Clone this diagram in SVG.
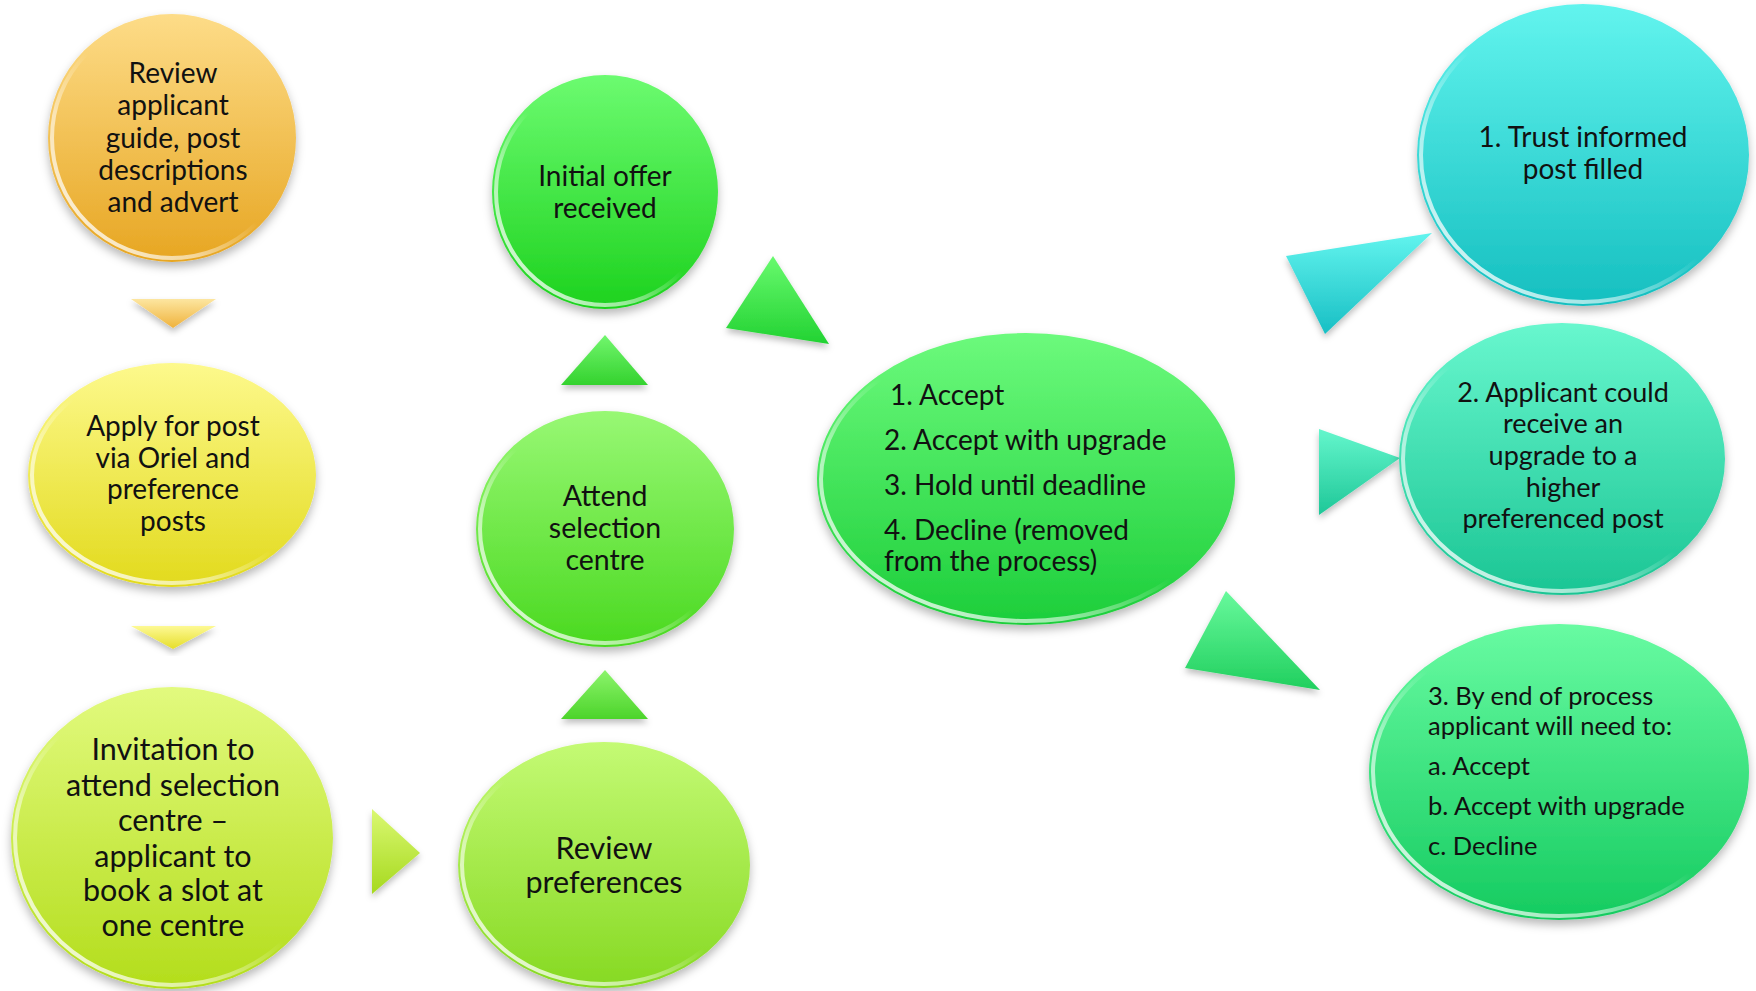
<svg xmlns="http://www.w3.org/2000/svg" width="1756" height="991" viewBox="0 0 1756 991">
<style>
  text { font-family: Lato, "Open Sans", "Liberation Sans", sans-serif; fill: #111; }
  .c { text-anchor: middle; }
  .node { filter: url(#sh); }
  .gloss { fill: none; stroke: url(#gl); stroke-width: 4; }
  .arr { filter: url(#sh2); }
</style>
<defs>
  <filter id="sh" x="-20%" y="-20%" width="140%" height="140%">
    <feDropShadow dx="0" dy="5" stdDeviation="5" flood-color="#000" flood-opacity="0.28"/>
  </filter>
  <filter id="sh2" x="-30%" y="-30%" width="160%" height="160%">
    <feDropShadow dx="0" dy="4" stdDeviation="3" flood-color="#000" flood-opacity="0.25"/>
  </filter>
  <linearGradient id="gl" x1="0" y1="1" x2="1" y2="0">
    <stop offset="0" stop-color="#fff" stop-opacity="0.95"/>
    <stop offset="0.3" stop-color="#fff" stop-opacity="0.55"/>
    <stop offset="0.5" stop-color="#fff" stop-opacity="0"/>
    <stop offset="0.85" stop-color="#fff" stop-opacity="0"/>
    <stop offset="1" stop-color="#fff" stop-opacity="0.2"/>
  </linearGradient>
  <linearGradient id="gOrange" x1="0" y1="0" x2="0" y2="1"><stop offset="0" stop-color="#FDDC88"/><stop offset="1" stop-color="#E7A622"/></linearGradient>
  <linearGradient id="gYellow" x1="0" y1="0" x2="0" y2="1"><stop offset="0" stop-color="#FDF98C"/><stop offset="1" stop-color="#E2DA1C"/></linearGradient>
  <linearGradient id="gLime" x1="0" y1="0" x2="0" y2="1"><stop offset="0" stop-color="#E2FA7E"/><stop offset="1" stop-color="#B3DD1B"/></linearGradient>
  <linearGradient id="gRev" x1="0" y1="0" x2="0" y2="1"><stop offset="0" stop-color="#C4FA74"/><stop offset="1" stop-color="#86D922"/></linearGradient>
  <linearGradient id="gAtt" x1="0" y1="0" x2="0" y2="1"><stop offset="0" stop-color="#98F874"/><stop offset="1" stop-color="#4AD920"/></linearGradient>
  <linearGradient id="gIni" x1="0" y1="0" x2="0" y2="1"><stop offset="0" stop-color="#6CFB70"/><stop offset="1" stop-color="#1DD21E"/></linearGradient>
  <linearGradient id="gAcc" x1="0" y1="0" x2="0" y2="1"><stop offset="0" stop-color="#6CFA7C"/><stop offset="1" stop-color="#1CCE3A"/></linearGradient>
  <linearGradient id="gCyan" x1="0" y1="0" x2="0" y2="1"><stop offset="0" stop-color="#62F4EE"/><stop offset="1" stop-color="#15BFC0"/></linearGradient>
  <linearGradient id="gTeal" x1="0" y1="0" x2="0" y2="1"><stop offset="0" stop-color="#68F7CE"/><stop offset="1" stop-color="#1BC594"/></linearGradient>
  <linearGradient id="gMint" x1="0" y1="0" x2="0" y2="1"><stop offset="0" stop-color="#68FBA2"/><stop offset="1" stop-color="#15CB60"/></linearGradient>
  <linearGradient id="aOrange" x1="0" y1="0" x2="0" y2="1"><stop offset="0" stop-color="#FDE6A0"/><stop offset="1" stop-color="#EFB23C"/></linearGradient>
  <linearGradient id="aYellow" x1="0" y1="0" x2="0" y2="1"><stop offset="0" stop-color="#FDF994"/><stop offset="1" stop-color="#E6DE2A"/></linearGradient>
  <linearGradient id="aLime" x1="0" y1="0" x2="0" y2="1"><stop offset="0" stop-color="#DAF872"/><stop offset="1" stop-color="#A6D91E"/></linearGradient>
  <linearGradient id="aG1" x1="0" y1="0" x2="0" y2="1"><stop offset="0" stop-color="#8CF46C"/><stop offset="1" stop-color="#4CD42A"/></linearGradient>
  <linearGradient id="aG2" x1="0" y1="0" x2="0" y2="1"><stop offset="0" stop-color="#72F66E"/><stop offset="1" stop-color="#34D22E"/></linearGradient>
  <linearGradient id="aG3" x1="0" y1="0" x2="0" y2="1"><stop offset="0" stop-color="#68FA6E"/><stop offset="1" stop-color="#22D232"/></linearGradient>
  <linearGradient id="aCyan" x1="0" y1="0" x2="0" y2="1"><stop offset="0" stop-color="#62F4EE"/><stop offset="1" stop-color="#18BFC4"/></linearGradient>
  <linearGradient id="aTeal" x1="0" y1="0" x2="0" y2="1"><stop offset="0" stop-color="#64F6CC"/><stop offset="1" stop-color="#1EC798"/></linearGradient>
  <linearGradient id="aMint" x1="0" y1="0" x2="0" y2="1"><stop offset="0" stop-color="#68F99C"/><stop offset="1" stop-color="#20CF5E"/></linearGradient>
</defs>
<rect width="1756" height="991" fill="#fff"/>

<g id="connectors">
  <polygon class="arr" points="131,299 216,299 173,328" fill="url(#aOrange)"/>
  <polygon class="arr" points="131,626 216,626 173,649" fill="url(#aYellow)"/>
  <polygon class="arr" points="372,809 420,853 372,894" fill="url(#aLime)"/>
  <polygon class="arr" points="605,670 648,719 561,719" fill="url(#aG1)"/>
  <polygon class="arr" points="605,335 648,385 561,385" fill="url(#aG2)"/>
  <polygon class="arr" points="773,256 829,344 726,328" fill="url(#aG3)"/>
  <polygon class="arr" points="1286,256 1432,233 1325,334" fill="url(#aCyan)"/>
  <polygon class="arr" points="1319,429 1400,458 1319,515" fill="url(#aTeal)"/>
  <polygon class="arr" points="1226,591 1320,690 1185,668" fill="url(#aMint)"/>
</g>

<g id="n-review-guide">
  <ellipse class="node" cx="172" cy="138" rx="124" ry="124" fill="url(#gOrange)"/>
  <ellipse class="gloss" cx="172" cy="138" rx="120" ry="120"/>
  <text class="c" font-size="28"><tspan x="173" y="83">Review</tspan><tspan x="173" y="115">applicant</tspan><tspan x="173" y="148">guide, post</tspan><tspan x="173" y="180">descriptions</tspan><tspan x="173" y="212">and advert</tspan></text>
</g>

<g id="n-apply">
  <ellipse class="node" cx="172" cy="475" rx="144" ry="112" fill="url(#gYellow)"/>
  <ellipse class="gloss" cx="172" cy="475" rx="140" ry="108"/>
  <text class="c" font-size="28"><tspan x="173" y="436">Apply for post</tspan><tspan x="173" y="468">via Oriel and</tspan><tspan x="173" y="499">preference</tspan><tspan x="173" y="531">posts</tspan></text>
</g>

<g id="n-invitation">
  <ellipse class="node" cx="172" cy="838" rx="161" ry="151" fill="url(#gLime)"/>
  <ellipse class="gloss" cx="172" cy="838" rx="157" ry="147"/>
  <text class="c" font-size="30.5"><tspan x="173" y="760">Invitation to</tspan><tspan x="173" y="796">attend selection</tspan><tspan x="173" y="831">centre –</tspan><tspan x="173" y="867">applicant to</tspan><tspan x="173" y="901">book a slot at</tspan><tspan x="173" y="936">one centre</tspan></text>
</g>

<g id="n-review-prefs">
  <ellipse class="node" cx="604" cy="865" rx="146" ry="123" fill="url(#gRev)"/>
  <ellipse class="gloss" cx="604" cy="865" rx="142" ry="119"/>
  <text class="c" font-size="30.5"><tspan x="604" y="859">Review</tspan><tspan x="604" y="893">preferences</tspan></text>
</g>

<g id="n-attend">
  <ellipse class="node" cx="605" cy="529" rx="129" ry="118" fill="url(#gAtt)"/>
  <ellipse class="gloss" cx="605" cy="529" rx="125" ry="114"/>
  <text class="c" font-size="28.5"><tspan x="605" y="506">Attend</tspan><tspan x="605" y="538">selection</tspan><tspan x="605" y="570">centre</tspan></text>
</g>

<g id="n-initial">
  <ellipse class="node" cx="605" cy="192" rx="113" ry="117" fill="url(#gIni)"/>
  <ellipse class="gloss" cx="605" cy="192" rx="109" ry="113"/>
  <text class="c" font-size="28"><tspan x="605" y="186">Initial offer</tspan><tspan x="605" y="218">received</tspan></text>
</g>

<g id="n-options">
  <ellipse class="node" cx="1026" cy="479" rx="209" ry="146" fill="url(#gAcc)"/>
  <ellipse class="gloss" cx="1026" cy="479" rx="205" ry="142"/>
  <text font-size="28"><tspan x="890" y="405">1. Accept</tspan><tspan x="884" y="450">2. Accept with upgrade</tspan><tspan x="884" y="495">3. Hold until deadline</tspan><tspan x="884" y="540">4. Decline (removed</tspan><tspan x="884" y="571">from the process)</tspan></text>
</g>

<g id="n-trust">
  <ellipse class="node" cx="1583" cy="155" rx="166" ry="151" fill="url(#gCyan)"/>
  <ellipse class="gloss" cx="1583" cy="155" rx="162" ry="147"/>
  <text class="c" font-size="28"><tspan x="1583" y="147">1. Trust informed</tspan><tspan x="1583" y="179">post filled</tspan></text>
</g>

<g id="n-upgrade">
  <ellipse class="node" cx="1562" cy="459" rx="163" ry="136" fill="url(#gTeal)"/>
  <ellipse class="gloss" cx="1562" cy="459" rx="159" ry="132"/>
  <text class="c" font-size="27"><tspan x="1563" y="402">2. Applicant could</tspan><tspan x="1563" y="433">receive an</tspan><tspan x="1563" y="465">upgrade to a</tspan><tspan x="1563" y="497">higher</tspan><tspan x="1563" y="528">preferenced post</tspan></text>
</g>

<g id="n-end">
  <ellipse class="node" cx="1559" cy="772" rx="190" ry="148" fill="url(#gMint)"/>
  <ellipse class="gloss" cx="1559" cy="772" rx="186" ry="144"/>
  <text font-size="25.5"><tspan x="1428" y="705">3. By end of process</tspan><tspan x="1428" y="735">applicant will need to:</tspan><tspan x="1428" y="775">a. Accept</tspan><tspan x="1428" y="815">b. Accept with upgrade</tspan><tspan x="1428" y="855">c. Decline</tspan></text>
</g>
</svg>
